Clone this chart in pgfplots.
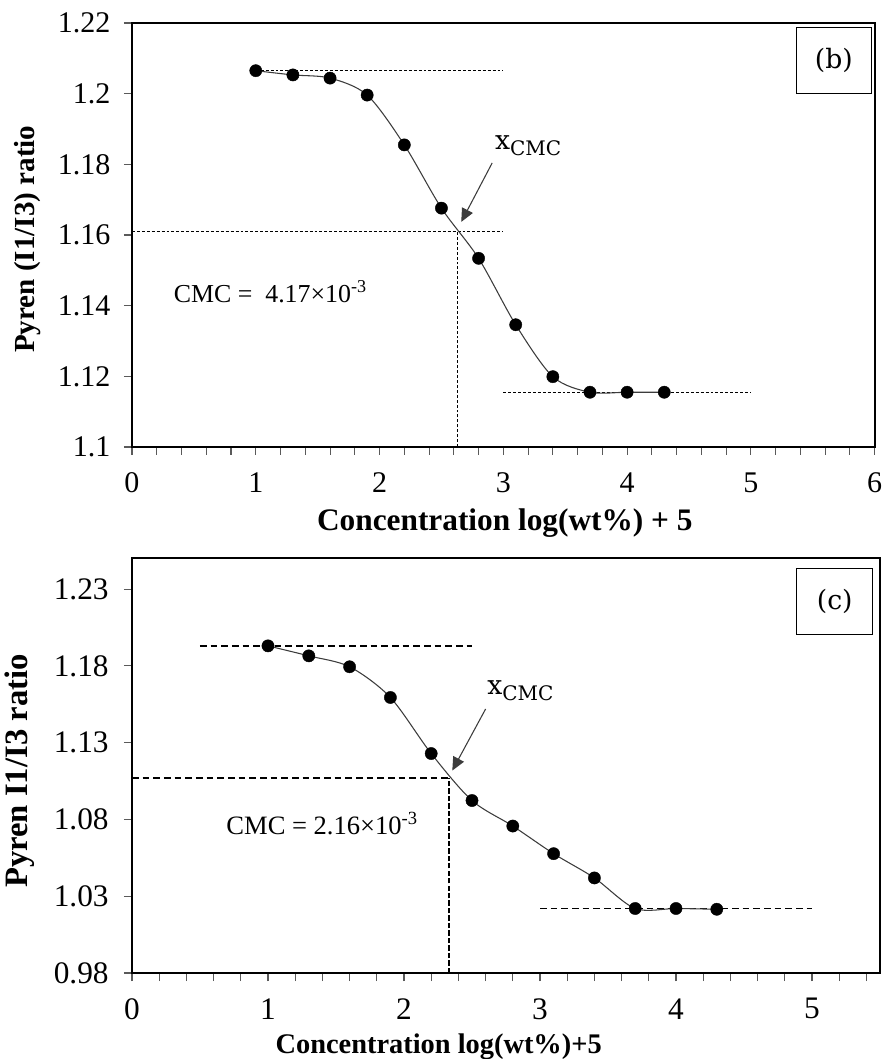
\documentclass[border=0pt]{standalone}
\usepackage{fontspec}
\setmainfont{Liberation Serif}
\newfontfamily\cambria{DejaVu Serif}
\usepackage{pgfplots}
\pgfplotsset{compat=1.18}
\usetikzlibrary{arrows.meta}

\definecolor{tickgray}{RGB}{90,90,90}
\definecolor{curvegray}{RGB}{60,60,60}

\pgfplotsset{
  excelframe/.style={
    scale only axis,
    axis line style={line width=1.7pt,black},
    tick pos=left,
    tick align=outside,
    major tick length=6pt,
    minor tick length=6pt,
    every tick/.style={tickgray,line width=0.8pt},
    xticklabel style={yshift=-9.5pt},
    /pgf/number format/assume math mode=true,
    /pgf/number format/.cd,fixed,precision=2,
    /pgfplots/.cd,
    clip=false,
  },
  datacurve/.style={curvegray,line width=0.8pt,smooth,tension=0.5,
    mark=*,mark size=4.6pt,mark options={fill=black,draw=black,line width=0.3pt}},
}

\begin{document}
\begin{tikzpicture}
% panel (b)
\begin{axis}[
  excelframe,
  width=557pt, height=318pt,
  xmin=0, xmax=6, ymin=1.1, ymax=1.22,
  xtick={0,1,...,6}, minor xtick={0,0.2,...,6},
  ytick={1.1,1.12,1.14,1.16,1.18,1.2,1.22},
  ticklabel style={font=\fontsize{22.5}{24}\selectfont},
  yticklabel style={xshift=-6.75pt},
  xlabel={\textbf{Concentration log(wt\%) + 5}},
  ylabel={\textbf{Pyren (I1/I3) ratio}},
  xlabel style={font=\fontsize{23.5}{26}\selectfont,at={(axis description cs:0.502,-0.18)},anchor=center},
  ylabel style={font=\fontsize{21.8}{24}\selectfont,at={(axis description cs:-0.14,0.49)},anchor=center,rotate=0},
]
\addplot[black,line width=0.6pt,dash pattern=on 2.2pt off 1.5pt] coordinates {(1,1.2065) (3,1.2065)};
\addplot[black,line width=0.6pt,dash pattern=on 2.2pt off 1.5pt] coordinates {(0,1.161) (3,1.161)};
\addplot[black,line width=0.6pt,dash pattern=on 2.2pt off 1.5pt] coordinates {(2.63,1.1) (2.63,1.161)};
\addplot[black,line width=0.6pt,dash pattern=on 2.2pt off 1.5pt] coordinates {(3,1.1155) (5,1.1155)};
\addplot[datacurve] coordinates {
(1.0,1.2065) (1.3,1.2053) (1.6,1.2044) (1.9,1.1996) (2.2,1.1855) (2.5,1.1676)
(2.8,1.1534) (3.1,1.1346) (3.4,1.1199) (3.7,1.1155) (4.0,1.1155) (4.3,1.1155)
};
\draw[curvegray,line width=0.8pt,-{Triangle[length=10pt,width=9pt]}] (axis cs:2.91,1.1804) -- (axis cs:2.66,1.1637);
\node at (axis cs:3.2,1.1852) {\cambria\fontsize{20}{22}\selectfont x\raisebox{-0.45ex}{\fontsize{15}{16}\selectfont CMC}};
\node[anchor=west] at (axis cs:0.3,1.1439) {\fontsize{19.4}{21}\selectfont CMC =\ \ 4.17×10\textsuperscript{-3}};
\node[draw=black,line width=0.8pt,minimum width=56pt,minimum height=49pt,anchor=north east,inner sep=0pt]
  at (axis description cs:0.996,0.99) {\cambria\fontsize{20}{22}\selectfont (b)};
\end{axis}

% panel (c)
\begin{axis}[
  excelframe,
  at={(0,-394.5pt)},
  width=561pt, height=311pt,
  xmin=0, xmax=5.5, ymin=0.98, ymax=1.25,
  xtick={0,1,...,5}, minor xtick={0,0.2,...,5.4},
  ytick={0.98,1.03,1.08,1.13,1.18,1.23},
  ticklabel style={font=\fontsize{23.5}{25}\selectfont},
  yticklabel style={xshift=-8pt},
  xlabel={\textbf{Concentration log(wt\%)+5}},
  ylabel={\textbf{Pyren I1/I3 ratio}},
  xlabel style={font=\fontsize{21.3}{24}\selectfont,at={(axis description cs:0.41,-0.177)},anchor=center},
  ylabel style={font=\fontsize{24.5}{26}\selectfont,at={(axis description cs:-0.15,0.487)},anchor=center,rotate=0},
]
\addplot[black,line width=1.2pt,dash pattern=on 5pt off 3pt] coordinates {(0.5,1.193) (2.5,1.193)};
\addplot[black,line width=1.2pt,dash pattern=on 5pt off 3pt] coordinates {(0,1.1068) (2.33,1.1068)};
\addplot[black,line width=1.2pt,dash pattern=on 4pt off 1.6pt] coordinates {(2.33,0.98) (2.33,1.1068)};
\addplot[black,line width=1.2pt,dash pattern=on 5pt off 3pt] coordinates {(3,1.022) (5,1.022)};
\addplot[datacurve] coordinates {
(1.0,1.193) (1.3,1.1865) (1.6,1.1794) (1.9,1.1594) (2.2,1.1229) (2.5,1.0923)
(2.8,1.0757) (3.1,1.0577) (3.4,1.0419) (3.7,1.022) (4.0,1.022) (4.3,1.0215)
};
\draw[curvegray,line width=0.8pt,-{Triangle[length=10pt,width=9pt]}] (axis cs:2.60,1.1519) -- (axis cs:2.355,1.1118);
\node at (axis cs:2.856,1.1638) {\cambria\fontsize{20}{22}\selectfont x\raisebox{-0.45ex}{\fontsize{15}{16}\selectfont CMC}};
\node[anchor=west] at (axis cs:0.66,1.0774) {\fontsize{19.9}{21}\selectfont CMC = 2.16×10\textsuperscript{-3}};
\node[draw=black,line width=0.8pt,minimum width=57pt,minimum height=49.5pt,anchor=north east,inner sep=0pt]
  at (axis description cs:0.991,0.976) {\cambria\fontsize{20}{22}\selectfont (c)};
\end{axis}
\pgfresetboundingbox
\path[use as bounding box] (-99pt,-459pt) rectangle (564.75pt,335.25pt);
\end{tikzpicture}
\end{document}
